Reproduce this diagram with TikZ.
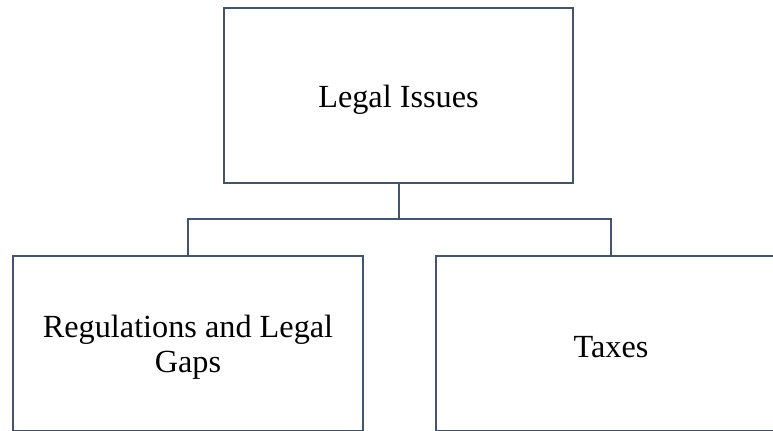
\documentclass[tikz,border=0pt]{standalone}
\usepackage{fontspec}
\setmainfont{Liberation Serif}
\definecolor{lineC}{HTML}{44546A}
\begin{document}
\begin{tikzpicture}[x=0.75pt,y=-0.75pt,
  boxstyle/.style={draw=lineC,line width=1.5pt,fill=white,rectangle,inner sep=0pt,
    minimum width=262.5pt,minimum height=131.25pt},
  txt/.style={align=center,inner sep=0pt,yshift=-3pt,
    font=\fontsize{24.2}{26.25}\selectfont},
  conn/.style={draw=lineC,line width=1.5pt}]
\useasboundingbox (0,0) rectangle (773,430);
\clip (0,0) rectangle (773,430);
\fill[white] (0,0) rectangle (773,430);
\node[boxstyle,minimum width=261.75pt] (top) at (398.5,95.5) {};
\node[boxstyle] (left) at (188,343.5) {};
\node[boxstyle] (right) at (611,343.5) {};
\node[txt] (toptxt) at (top.center) {Legal Issues};
\node[txt] (lefttxt) at (left.center) {Regulations and Legal\\Gaps};
\node[txt] (righttxt) at (right.center) {Taxes};
\coordinate (j) at (398.5,219);
\draw[conn] (top.south) -- (j);
\draw[conn] (left.north) |- (j) -| (right.north);
\end{tikzpicture}
\end{document}
